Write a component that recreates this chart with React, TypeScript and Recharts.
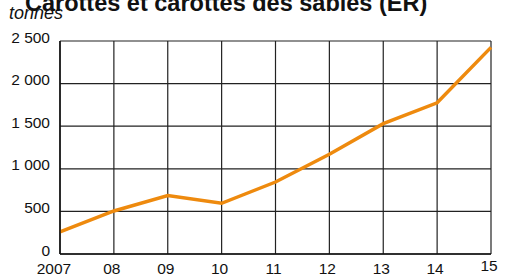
import { LineChart, Line, XAxis, YAxis, CartesianGrid } from 'recharts';

// years and tonnages
const years = ['2007', '08', '09', '10', '11', '12', '13', '14', '15'];
const tonnes = [260, 505, 685, 595, 845, 1170, 1530, 1775, 2425];
const yTicks = [0, 500, 1000, 1500, 2000, 2500];

const data = years.map((year, i) => ({ year, value: tonnes[i] }));

const FONT = '"Liberation Sans", Arial, sans-serif';

const formatThousands = (v: number) => (v >= 1000 ? `${Math.floor(v / 1000)} ${String(v % 1000).padStart(3, '0')}` : `${v}`);

const YTick = (props: any) => {
  const { x, y, payload } = props;
  return (
    <text x={x} y={y + 1.5} textAnchor="end" fontFamily={FONT} fontSize={15.5} fill="#111">
      {formatThousands(payload.value)}
    </text>
  );
};

const XTick = (props: any) => {
  const { x, y, payload } = props;
  // first label sits a bit left, last one a bit higher, as in the source
  const dx = payload.value === '2007' ? -6 : -2;
  const dy = payload.value === '15' ? -3 : 0;
  return (
    <text x={x + dx} y={y + dy} textAnchor="middle" fontFamily={FONT} fontSize={15.5} fill="#111">
      {payload.value}
    </text>
  );
};

export default function App() {
  return (
    <div style={{ position: 'absolute', left: 0, top: 0, width: 505, height: 277, background: '#fff', overflow: 'hidden' }}>
      <div
        style={{
          position: 'absolute',
          left: 25,
          top: -9,
          fontFamily: FONT,
          fontWeight: 'bold',
          fontSize: 23.5,
          lineHeight: '24px',
          whiteSpace: 'nowrap',
          color: '#111',
        }}
      >
        Carottes et carottes des sables (ER)
      </div>
      <div
        style={{
          position: 'absolute',
          left: 9,
          top: 4,
          fontFamily: FONT,
          fontStyle: 'italic',
          fontSize: 18,
          lineHeight: '18px',
          color: '#111',
        }}
      >
        tonnes
      </div>
      <LineChart width={505} height={277} data={data} margin={{ top: 41, right: 14, left: 5, bottom: 0 }}>
        <CartesianGrid stroke="#222" strokeWidth={1.2} />
        <XAxis
          dataKey="year"
          height={23}
          tickLine={false}
          tickSize={0}
          tickMargin={20}
          axisLine={{ stroke: '#111', strokeWidth: 1.5 }}
          tick={<XTick />}
          interval={0}
        />
        <YAxis
          width={55}
          domain={[0, 2500]}
          ticks={yTicks}
          tickLine={false}
          tickSize={0}
          tickMargin={10}
          axisLine={{ stroke: '#111', strokeWidth: 1.5 }}
          tick={<YTick />}
        />
        <Line
          type="linear"
          dataKey="value"
          stroke="#ee8a0e"
          strokeWidth={3.5}
          dot={false}
          isAnimationActive={false}
        />
      </LineChart>
    </div>
  );
}
